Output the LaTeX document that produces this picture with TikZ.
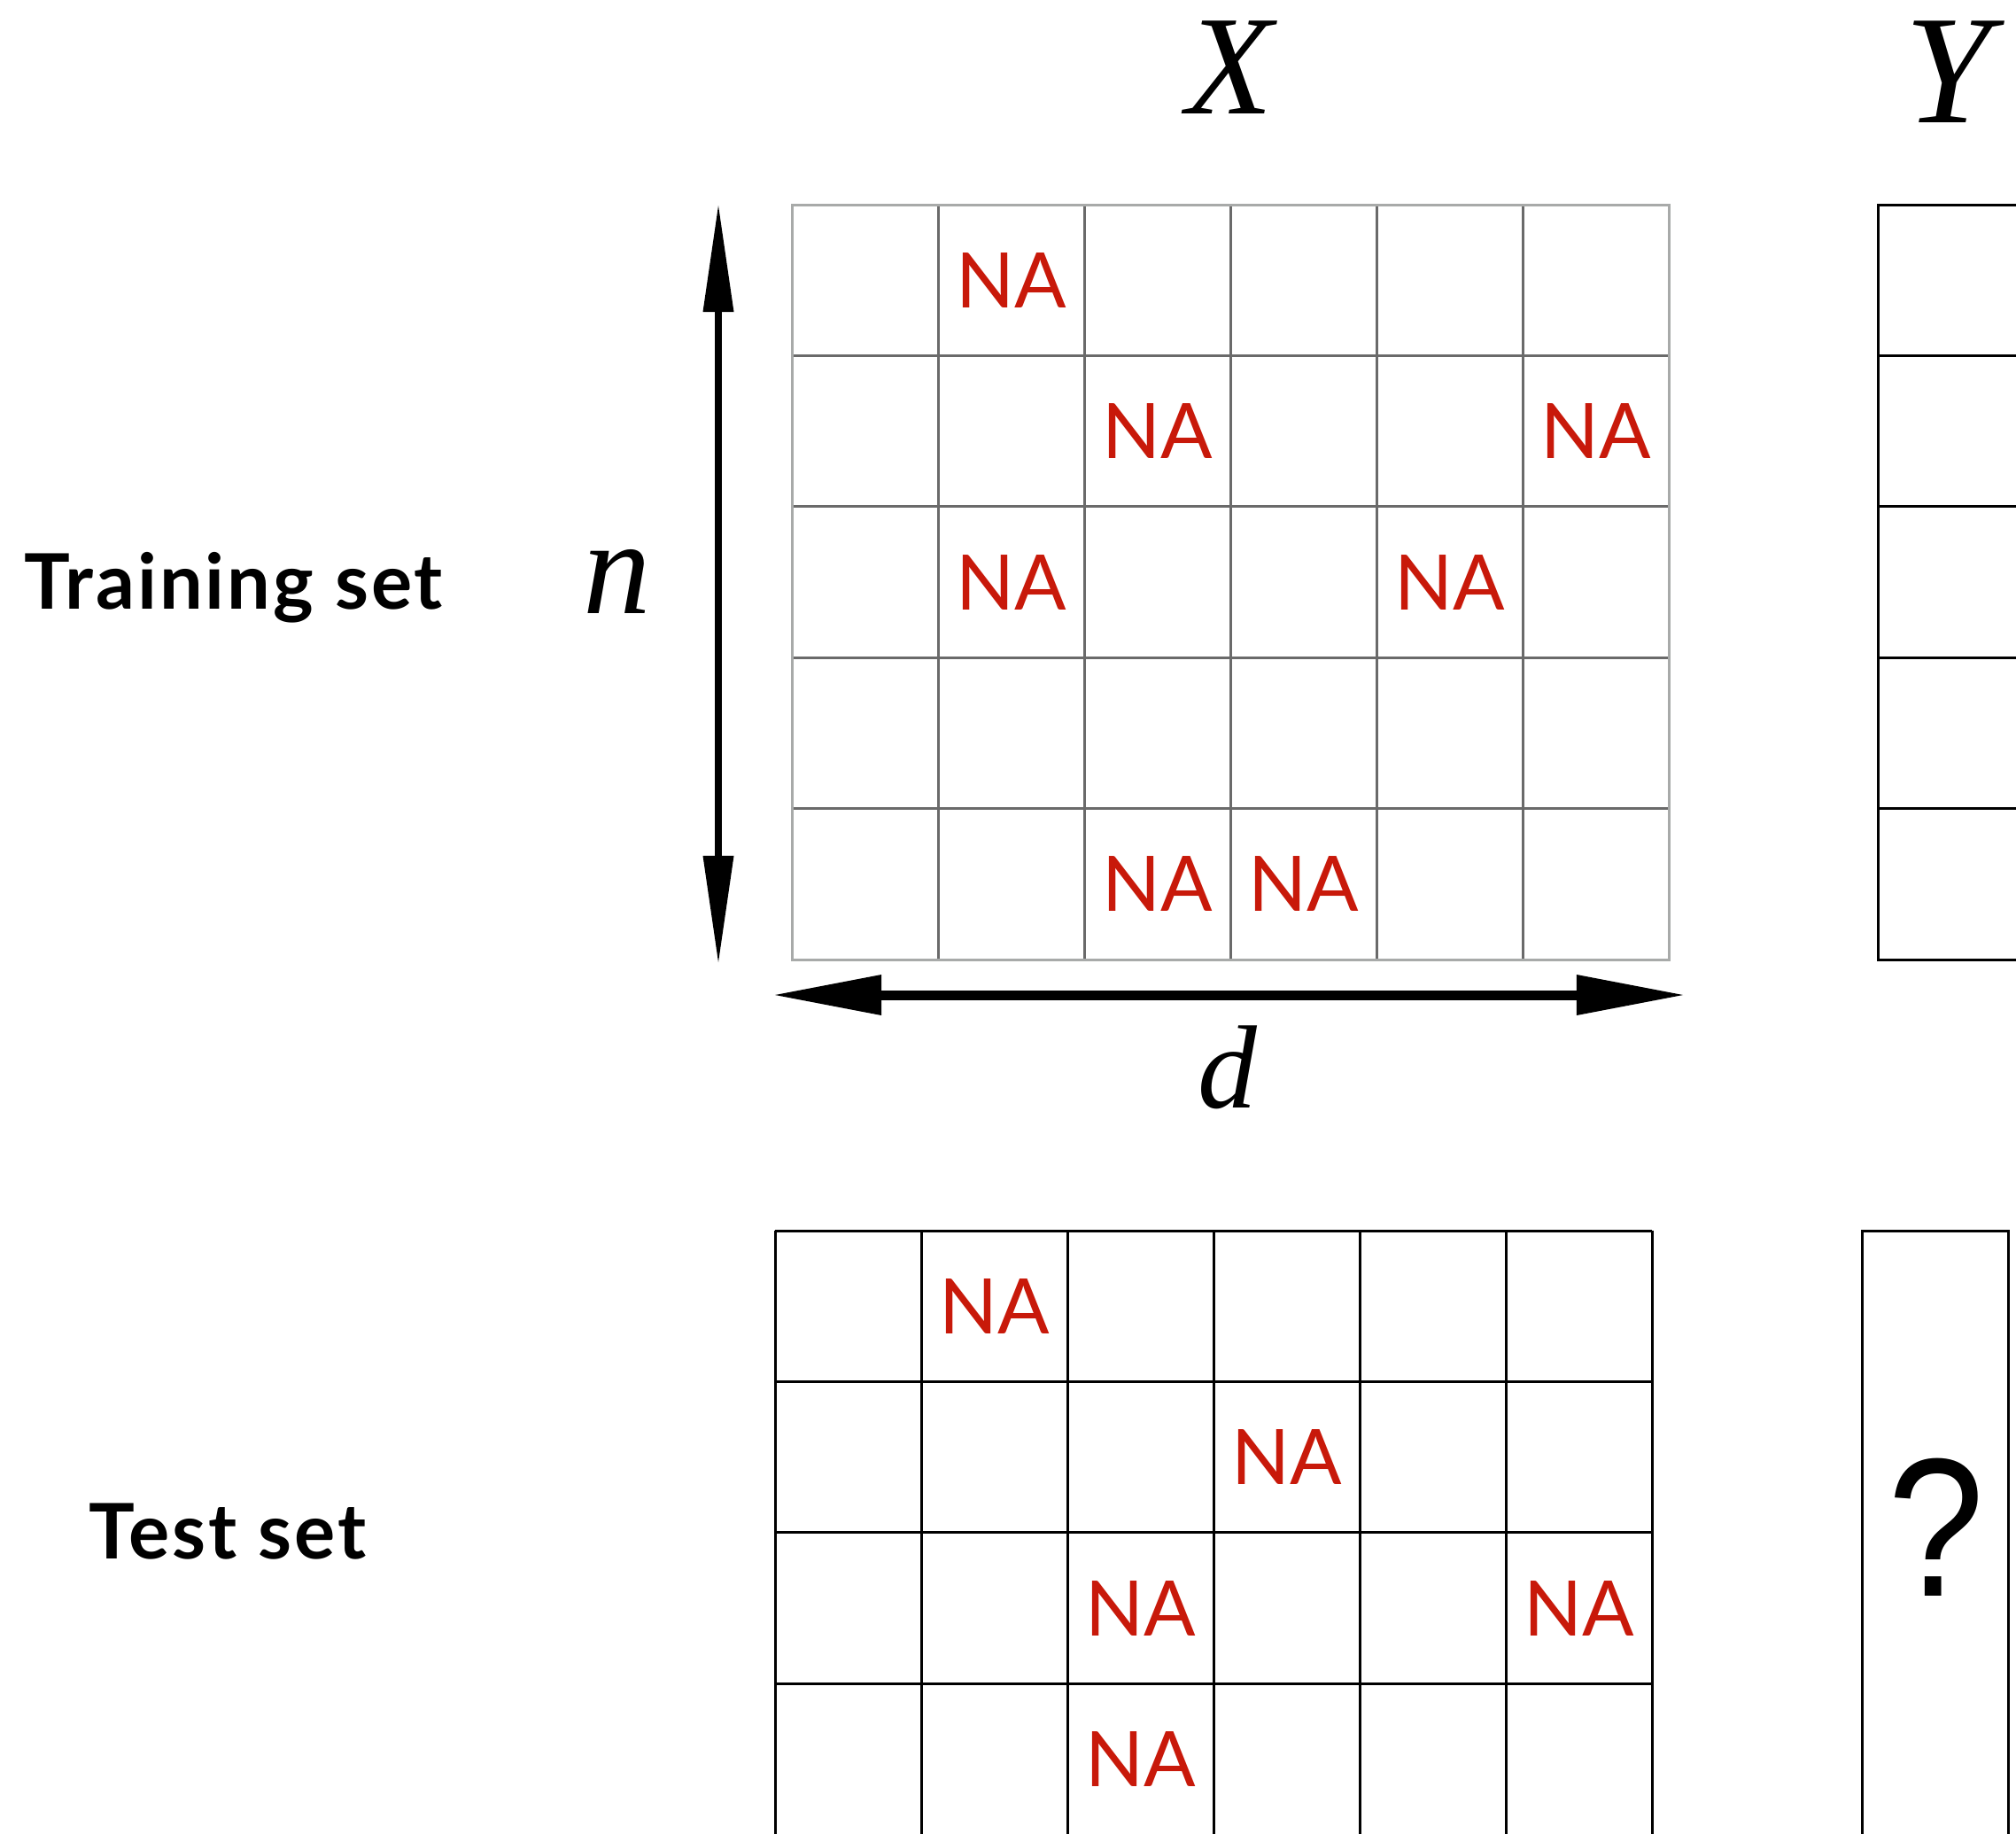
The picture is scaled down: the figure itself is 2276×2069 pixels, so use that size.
\documentclass[tikz,border=0pt]{standalone}
\usepackage{fontspec}
\setmainfont{Liberation Serif}
\newfontfamily\lato{Lato}
\newfontfamily\latospaced{Lato}[LetterSpace=3.4]
\newfontfamily\arialfont{Liberation Sans}
\usetikzlibrary{arrows.meta}
\definecolor{nared}{HTML}{C8190A}
\definecolor{gridout}{HTML}{A8AAA9}
\definecolor{gridin}{HTML}{6A6A6A}
\tikzset{
  na/.style={inner sep=0pt, text=nared, font=\lato\fontsize{24.6}{30}\selectfont},
  mathlbl/.style={inner sep=0pt, anchor=base, font=\itshape},
  setlbl/.style={inner sep=0pt, anchor=base west, font=\latospaced\bfseries\fontsize{24.6}{30}\selectfont},
  gline/.style={line width=0.03cm},
}
\begin{document}
\begin{tikzpicture}[x=0.01cm, y=-0.01cm]
\useasboundingbox (0,0) rectangle (2276,2069);
\clip (0,0) rectangle (2276,2069);
\fill[white] (0,0) rectangle (2276,2069);

% ---- training X grid ----
\foreach \c in {1,...,5} \draw[gline, gridin] ({894+165*\c},231) -- ({894+165*\c},1083);
\foreach \r in {1,...,4} \draw[gline, gridin] (894,{231+170.4*\r}) -- (1884,{231+170.4*\r});
\draw[gline, gridout] (894,231) rectangle (1884,1083);

% ---- training Y column ----
\draw[gline, black] (2120,231) rectangle (2285,1083);
\foreach \r in {1,...,4} \draw[gline, black] (2120,{231+170.4*\r}) -- (2285,{231+170.4*\r});

% ---- test X grid ----
\foreach \c in {0,...,6} \draw[gline, black] ({875+165*\c},1389) -- ({875+165*\c},2100);
\foreach \r in {0,...,3} \draw[gline, black] (875,{1389+170.4*\r}) -- (1865,{1389+170.4*\r});

% ---- test Y column ----
\draw[gline, black] (2102,2100) -- (2102,1389) -- (2267,1389) -- (2267,2100);

% ---- NA entries ----
\foreach \r/\c [count=\i] in {0/1,1/2,1/5,2/1,2/4,4/2,4/3}
  \node[na] (natr\i) at ({894+165*(\c+0.5)},{231+170.4*(\r+0.5)}) {NA};
\foreach \r/\c [count=\i] in {0/1,1/3,2/2,2/5,3/2}
  \node[na] (nate\i) at ({875+165*(\c+0.5)},{1389+170.4*(\r+0.5)}) {NA};

% ---- question mark ----
\node[inner sep=0pt, font=\arialfont\fontsize{63.3}{70}\selectfont] (qm) at (2186,1724) {\scalebox{0.88}[1]{?}};

% ---- labels ----
\node[mathlbl, font=\itshape\fontsize{45.5}{50}\selectfont] (labX) at (1388,128) {X};
\node[mathlbl, font=\itshape\fontsize{49.8}{55}\selectfont] (labY) at (2199,138) {Y};
\node[mathlbl, font=\itshape\fontsize{43.5}{50}\selectfont] (labn) at (697,692) {n};
\node[mathlbl, font=\itshape\fontsize{38}{44}\selectfont] (labd) at (1386,1250) {d};
\node[setlbl] (train) at (27,687) {Training set};
\node[setlbl] (test) at (100,1759) {Test set};

% ---- arrows ----
\coordinate (vtop) at (811,232);
\coordinate (vbot) at (811,1086);
\coordinate (hleft) at (875,1123);
\coordinate (hright) at (1900,1123);
\draw[line width=0.08cm, {Triangle[length=1.2cm, width=0.35cm, line width=0pt]}-{Triangle[length=1.2cm, width=0.35cm, line width=0pt]}] (vtop) -- (vbot);
\draw[line width=0.11cm, {Triangle[length=1.2cm, width=0.46cm, line width=0pt]}-{Triangle[length=1.2cm, width=0.46cm, line width=0pt]}] (hleft) -- (hright);
\end{tikzpicture}
\end{document}
